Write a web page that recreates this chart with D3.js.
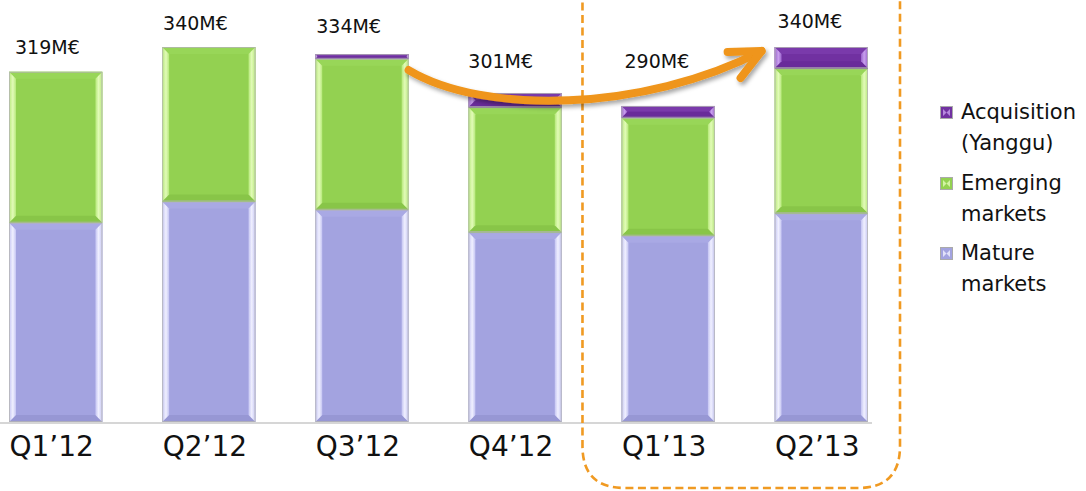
<!DOCTYPE html>
<html>
<head>
<meta charset="utf-8">
<script src="https://cdn.jsdelivr.net/npm/d3@7/dist/d3.min.js"></script>
<style>
  html, body { margin: 0; padding: 0; background: #ffffff; }
  svg { display: block; }
  text { font-family: "DejaVu Sans", sans-serif; fill: #111; }
</style>
</head>
<body>
<svg id="chart" width="1086" height="491"></svg>
<script>
// Quarterly sales, M€, split by market type
const categories = ["Q1’12", "Q2’12", "Q3’12", "Q4’12", "Q1’13", "Q2’13"];
const mature = [191, 209, 202, 183, 180, 199];
const emerging = [128, 131, 128, 106, 100, 123];
const acquisition = [0, 0, 4, 12, 10, 18];
const seriesNames = ["Acquisition\n(Yanggu)", "Emerging\nmarkets", "Mature\nmarkets"];

// Layout
const baseY = 422, topY = 47;
const axisMin = 22; // value axis origin sits at 22 M€
const plotLeft = 9, plotRight = 868;
const labelDx = [6, 1, 1, 0, 3, 3];
const labelLift = [18, 17, 21, 25, 38, 19];

const palette = {
  mature:      { base: "#a3a3e0", side: "#c4c4f2", hi: "#f0f0ff", top: "#a9a9e4", bot: "#9797d4" },
  emerging:    { base: "#93d151", side: "#b6e87a", hi: "#e2fbb8", top: "#98d658", bot: "#88c548" },
  acquisition: { base: "#7131a1", side: "#9a62cc", hi: "#c9a0ee", top: "#7a3aab", bot: "#692b9a" }
};

const svg = d3.select("#chart");
const defs = svg.append("defs");

const totals = categories.map((c, i) => mature[i] + emerging[i] + acquisition[i]);
const rows = categories.map((c, i) => ({ cat: c, mature: mature[i], emerging: emerging[i], acquisition: acquisition[i] }));
const keys = ["mature", "emerging", "acquisition"];
const stacked = d3.stack().keys(keys)(rows);

const x = d3.scaleBand().domain(categories).range([plotLeft, plotRight]).paddingInner(0.39).paddingOuter(0);
const y = d3.scaleLinear().domain([axisMin, d3.max(totals)]).range([baseY, topY]);
const yc = v => y(Math.max(axisMin, v));

// gradients for the bevelled side strips
keys.forEach(k => {
  const p = palette[k];
  const gl = defs.append("linearGradient").attr("id", "gl-" + k).attr("x1", 0).attr("x2", 1).attr("y1", 0).attr("y2", 0);
  gl.append("stop").attr("offset", 0).attr("stop-color", p.side);
  gl.append("stop").attr("offset", 0.55).attr("stop-color", p.hi);
  gl.append("stop").attr("offset", 1).attr("stop-color", p.side);
  const gr = defs.append("linearGradient").attr("id", "gr-" + k).attr("x1", 0).attr("x2", 1).attr("y1", 0).attr("y2", 0);
  gr.append("stop").attr("offset", 0).attr("stop-color", p.side);
  gr.append("stop").attr("offset", 0.45).attr("stop-color", p.hi);
  gr.append("stop").attr("offset", 1).attr("stop-color", p.side);
});

// drop shadow for the arrow
const sh = defs.append("filter").attr("id", "shadow").attr("x", "-10%").attr("y", "-30%").attr("width", "130%").attr("height", "180%");
sh.append("feDropShadow").attr("dx", 2).attr("dy", 3).attr("stdDeviation", 2).attr("flood-color", "#000").attr("flood-opacity", 0.35);

// axis line
svg.append("line")
  .attr("x1", 0).attr("x2", plotRight + 4)
  .attr("y1", baseY + 1).attr("y2", baseY + 1)
  .attr("stroke", "#c8c8c8").attr("stroke-width", 1.5);

// bars: one bevelled block per stacked segment
const barsG = svg.append("g");
stacked.forEach(layer => {
  const k = layer.key;
  const p = palette[k];
  layer.forEach((d, i) => {
    if (d[1] - d[0] <= 0) return;
    const x0 = x(categories[i]), w = x.bandwidth();
    const t = yc(d[1]);
    const h = yc(d[0]) - t;
    const bv = Math.min(7, h / 2);
    const g = barsG.append("g");
    g.append("rect").attr("x", x0).attr("y", t).attr("width", w).attr("height", h).attr("fill", p.base);
    g.append("polygon").attr("points", [[x0, t], [x0 + w, t], [x0 + w - bv, t + bv], [x0 + bv, t + bv]].join(" ")).attr("fill", p.top);
    g.append("polygon").attr("points", [[x0, t + h], [x0 + w, t + h], [x0 + w - bv, t + h - bv], [x0 + bv, t + h - bv]].join(" ")).attr("fill", p.bot);
    g.append("polygon").attr("points", [[x0, t], [x0 + bv, t + bv], [x0 + bv, t + h - bv], [x0, t + h]].join(" ")).attr("fill", "url(#gl-" + k + ")");
    g.append("polygon").attr("points", [[x0 + w, t], [x0 + w - bv, t + bv], [x0 + w - bv, t + h - bv], [x0 + w, t + h]].join(" ")).attr("fill", "url(#gr-" + k + ")");
    g.append("rect").attr("x", x0 + 0.5).attr("y", t + 0.5).attr("width", w - 1).attr("height", Math.max(0, h - 1))
      .attr("fill", "none").attr("stroke", "#b4b4b4").attr("stroke-width", 1).attr("stroke-opacity", 0.8);
  });
});

// total labels
svg.append("g").selectAll("text").data(categories).join("text")
  .attr("x", (c, i) => x(c) + labelDx[i])
  .attr("y", (c, i) => y(totals[i]) - labelLift[i])
  .attr("font-size", 19)
  .text((c, i) => totals[i] + "M€");

// category labels
svg.append("g").selectAll("text").data(categories).join("text")
  .attr("x", c => x(c) + x.bandwidth() / 2 - 4)
  .attr("y", 456)
  .attr("text-anchor", "middle")
  .attr("font-size", 28)
  .text(c => c);

// dashed highlight frame around 2013
const fx0 = x(categories[4]) - 39, fx1 = x(categories[5]) + x.bandwidth() + 32;
const fy1 = 488, r = 42;
svg.append("path")
  .attr("d", `M${fx0},-10 L${fx0},${fy1 - r} Q${fx0},${fy1} ${fx0 + r},${fy1} L${fx1 - r},${fy1} Q${fx1},${fy1} ${fx1},${fy1 - r} L${fx1},-10`)
  .attr("fill", "none").attr("stroke", "#f09a22").attr("stroke-width", 2.6).attr("stroke-dasharray", "8,4.5");

// growth arrow from Q3'12 to Q2'13
const ax0 = x(categories[2]) + x.bandwidth(), ay0 = y(totals[2]) + 16;
const ax1 = x(categories[5]) - 13, ay1 = y(totals[5]) + 4;
const arrow = svg.append("g").attr("filter", "url(#shadow)");
arrow.append("path")
  .attr("d", `M${ax0},${ay0} C${ax0 + 75},${ay0 + 45} ${ax0 + 235},${ay0 + 42} ${ax1},${ay1}`)
  .attr("fill", "none").attr("stroke", "#ef951a").attr("stroke-width", 8).attr("stroke-linecap", "round");
arrow.append("path")
  .attr("d", `M${ax1 - 34},${ay1 + 1} L${ax1},${ay1} L${ax1 - 21},${ay1 + 27}`)
  .attr("fill", "none").attr("stroke", "#ef951a").attr("stroke-width", 8).attr("stroke-linecap", "round").attr("stroke-linejoin", "round");

// legend
const legendKeys = ["acquisition", "emerging", "mature"];
const legendY = [106, 177, 247];
const lg = svg.append("g");
legendKeys.forEach((k, i) => {
  const p = palette[k];
  const gy = legendY[i];
  lg.append("rect").attr("x", 940.5).attr("y", gy + 0.5).attr("width", 12).attr("height", 12)
    .attr("fill", p.base).attr("stroke", "#aaa").attr("stroke-width", 1);
  lg.append("path").attr("d", `M943,${gy + 3} L946.5,${gy + 6.5} L943,${gy + 10} Z M950,${gy + 3} L946.5,${gy + 6.5} L950,${gy + 10} Z`)
    .attr("fill", p.hi).attr("opacity", 0.8);
  seriesNames[i].split("\n").forEach((ln, j) => {
    lg.append("text").attr("x", 961).attr("y", gy + 13 + j * 31).attr("font-size", 21).text(ln);
  });
});
</script>
</body>
</html>
